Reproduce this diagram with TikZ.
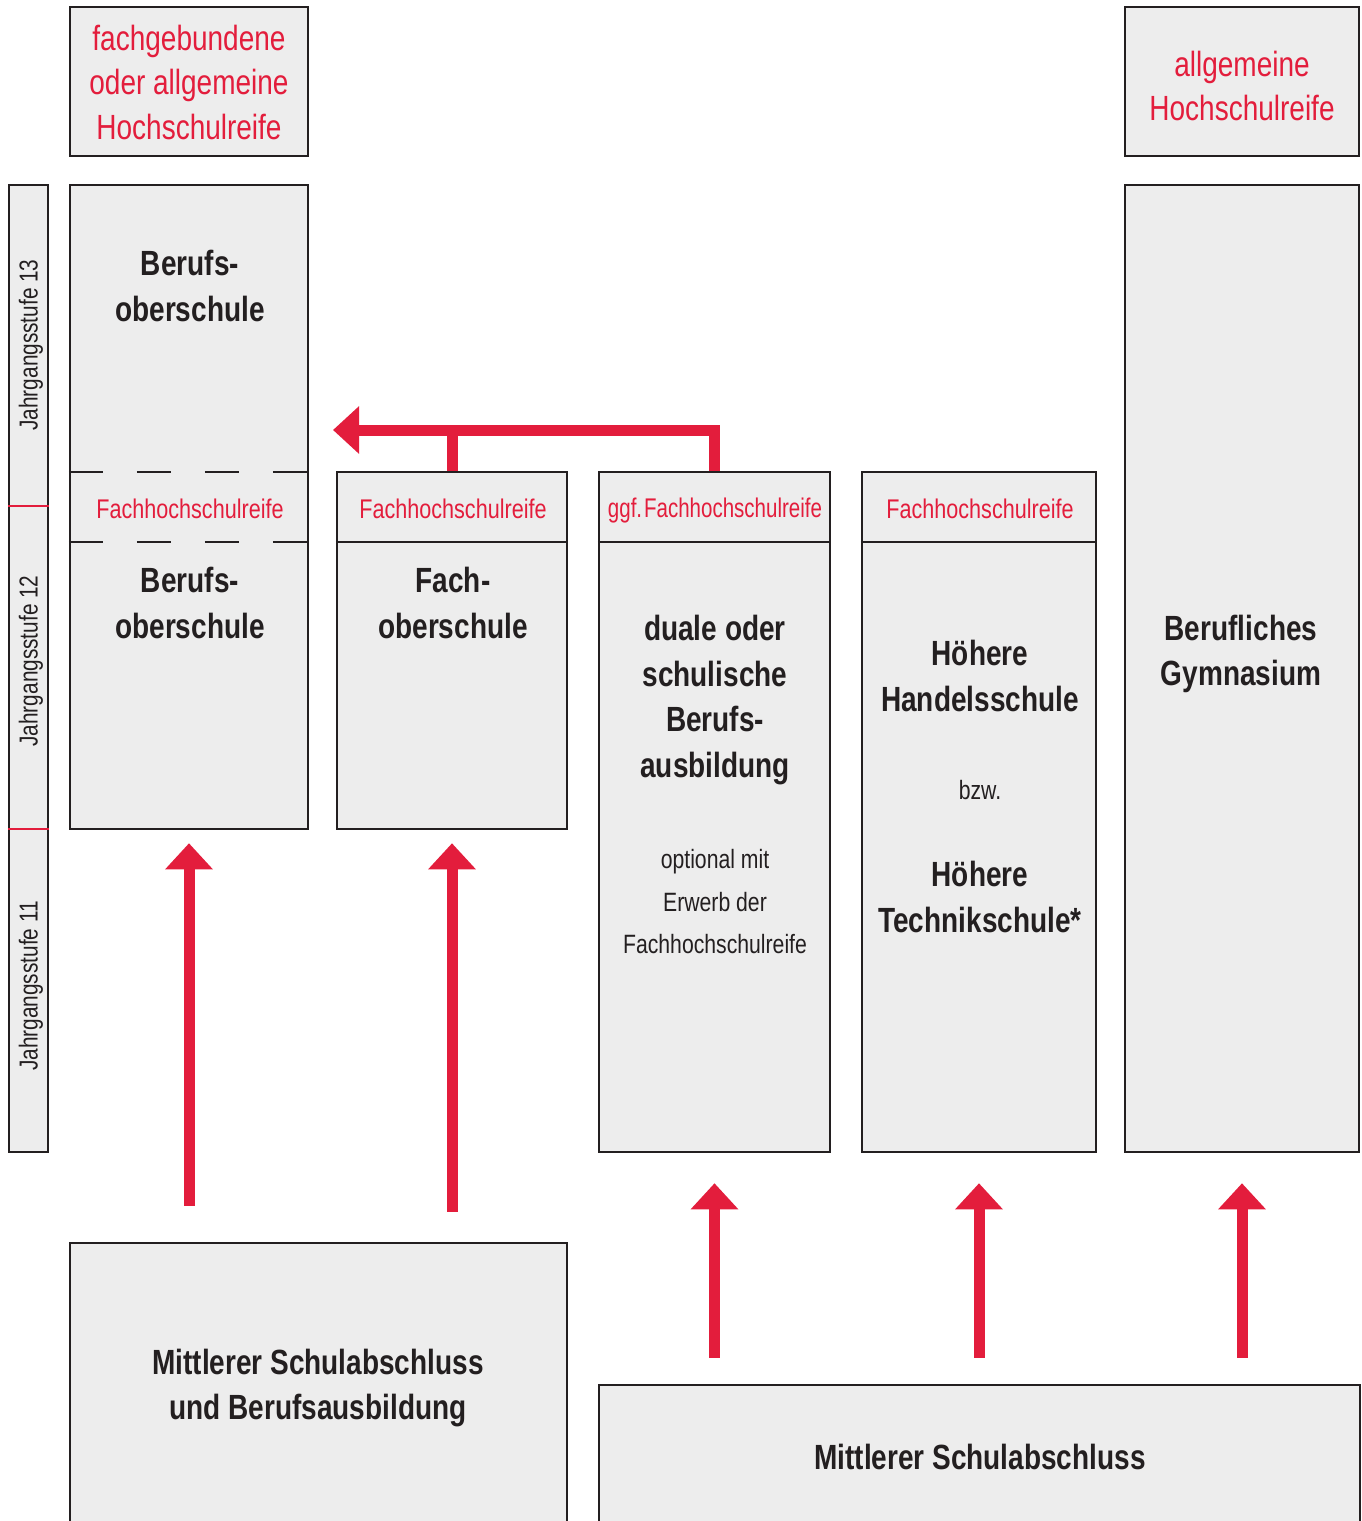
\documentclass[tikz,border=0pt]{standalone}
\usepackage{fontspec}
\setmainfont{Liberation Sans}[FakeStretch=0.8]
\usetikzlibrary{arrows.meta,fit}
\definecolor{dbred}{HTML}{E31D3C}
\definecolor{boxgray}{HTML}{EDEDED}
\definecolor{ink}{HTML}{231F20}
\begin{document}
\begin{tikzpicture}[x=1pt,y=-1pt,
  box/.style={draw=ink, fill=boxgray, line width=2.5pt, inner sep=0pt},
  sepline/.style={draw=ink, line width=2.5pt},
  dashline/.style={draw=ink, line width=2.5pt, dash pattern=on 34pt off 34pt},
  redsep/.style={draw=dbred, line width=1.5pt},
  bigred/.style={text=dbred, inner sep=0pt, align=center, font=\fontsize{35}{44.5}\selectfont},
  hdrred/.style={text=dbred, inner sep=0pt, align=center, font=\fontsize{27}{32}\selectfont},
  btxt/.style={text=ink, inner sep=0pt, align=center, font=\bfseries\fontsize{35}{45.5}\selectfont},
  stxt/.style={text=ink, inner sep=0pt, align=center, font=\fontsize{26.5}{42.5}\selectfont},
  yeartxt/.style={text=ink, inner sep=0pt, rotate=90, font=\fontsize{26}{30}\selectfont},
  arr/.style={draw=dbred, line width=11pt, line join=miter, -{Triangle[length=26pt,width=46pt]}},
  redline/.style={draw=dbred, line width=11pt},
]
\clip (0,0) rectangle (1362,1521);
\fill[white] (0,0) rectangle (1362,1521);

% boxes
\node[box, fit={(70,7) (308,156)}] (tl) {};
\node[box, fit={(1125,7) (1359,156)}] (tr) {};
\node[box, fit={(9,185) (48,1152)}] (strip) {};
\node[box, fit={(70,185) (308,829)}] (bos) {};
\node[box, fit={(337,472) (567,829)}] (fos) {};
\node[box, fit={(599,472) (830,1152)}] (duale) {};
\node[box, fit={(862,472) (1096,1152)}] (hhs) {};
\node[box, fit={(1125,185) (1359,1152)}] (bg) {};
\node[box, fit={(70,1243) (567,1545)}] (mlb) {};
\node[box, fit={(599,1385) (1360,1545)}] (mls) {};

% strip separators
\draw[redsep] (strip.west |- 0,506) -- (strip.east |- 0,506);
\draw[redsep] (strip.west |- 0,829) -- (strip.east |- 0,829);

% header lines
\draw[dashline] (bos.west |- 0,472) -- (bos.east |- 0,472);
\draw[dashline] (bos.west |- 0,542) -- (bos.east |- 0,542);
\draw[sepline] (fos.west |- 0,542) -- (fos.east |- 0,542);
\draw[sepline] (duale.west |- 0,542) -- (duale.east |- 0,542);
\draw[sepline] (hhs.west |- 0,542) -- (hhs.east |- 0,542);

% texts
\node[bigred] (tltxt) at (189,82) {fachgebundene\\oder allgemeine\\Hochschulreife};
\node[bigred] (trtxt) at (1242,86) {allgemeine\\Hochschulreife};

\node[yeartxt] (y13) at (31,345) {Jahrgangsstufe 13};
\node[yeartxt] (y12) at (31,661) {Jahrgangsstufe 12};
\node[yeartxt] (y11) at (31,986) {Jahrgangsstufe 11};

\node[btxt] (bos1) at (190,286) {Berufs-\\oberschule};
\node[btxt] (bos2) at (190,603) {Berufs-\\oberschule};
\node[btxt] (fostxt) at (453,603) {Fach-\\oberschule};
\node[btxt] (dualetxt) at (715,700) {duale oder\\schulische\\Berufs-\\ausbildung};
\node[stxt] (opttxt) at (715,902) {optional mit\\Erwerb der\\Fachhochschulreife};
\node[btxt] (hhs1) at (980,676) {Höhere\\Handelsschule};
\node[stxt] (bzw) at (980,790) {bzw.};
\node[btxt] (hhs2) at (980,897) {Höhere\\Technikschule*};
\node[btxt] (bgtxt) at (1241,654) {Berufliches\\Gymnasium};
\node[btxt] (mlbtxt) at (318,1388) {Mittlerer Schulabschluss\\und Berufsausbildung};
\node[btxt] (mlstxt) at (980,1457) {Mittlerer Schulabschluss};

\node[hdrred] (h1) at (190,509) {Fachhochschulreife};
\node[hdrred] (h2) at (453,509) {Fachhochschulreife};
\node[hdrred, xscale=0.95] (h3) at (715,511) {ggf.\kern2pt Fachhochschulreife};
\node[hdrred] (h4) at (980,509) {Fachhochschulreife};

% arrows
\coordinate (tip) at (333,430);
\draw[redline] (fos.north) -- (fos.north |- tip);
\draw[arr] (duale.north) |- (tip);

\draw[arr, shorten <=36pt, shorten >=13pt] (bos.south |- mlb.north) -- (bos.south);
\draw[arr, shorten <=30pt, shorten >=13pt] (fos.south |- mlb.north) -- (fos.south);
\draw[arr, shorten <=26pt, shorten >=30pt] (duale.south |- mls.north) -- (duale.south);
\draw[arr, shorten <=26pt, shorten >=30pt] (hhs.south |- mls.north) -- (hhs.south);
\draw[arr, shorten <=26pt, shorten >=30pt] (bg.south |- mls.north) -- (bg.south);
\end{tikzpicture}
\end{document}
